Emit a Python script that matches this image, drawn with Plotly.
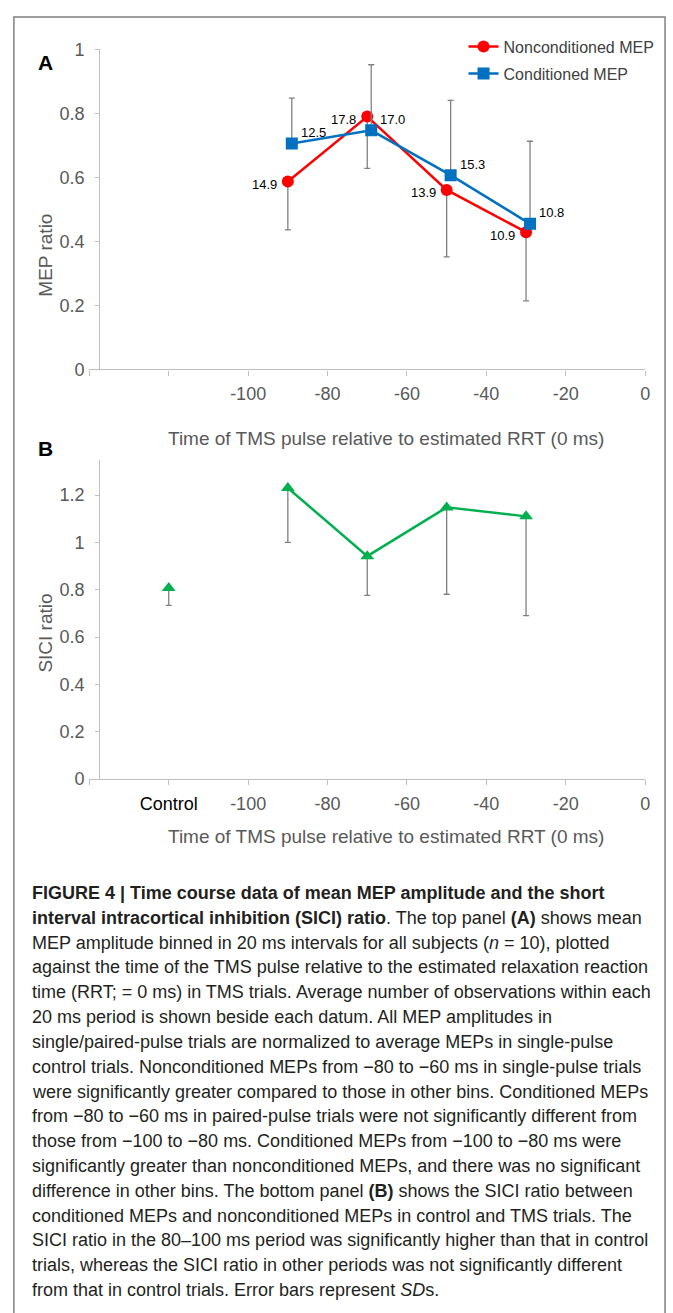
import plotly.graph_objects as go

W, H = 673, 1313

# ---------------- data ----------------
# Panel A
noncond_x = [-90, -70, -50, -30]
noncond_y = [0.587, 0.790, 0.561, 0.429]
noncond_sd = [0.151, 0.162, 0.209, 0.215]          # drawn downward
noncond_n = ["14.9", "17.8", "13.9", "10.9"]

cond_x = [-89, -69, -49, -29]
cond_y = [0.706, 0.747, 0.607, 0.455]
cond_sd = [0.142, 0.205, 0.234, 0.258]              # drawn upward
cond_n = ["12.5", "17.0", "15.3", "10.8"]

# Panel B
control_x = [-120]
control_y = [0.807]
control_sd = [0.073]
sici_x = [-90, -70, -50, -30]
sici_y = [1.230, 0.942, 1.148, 1.110]
sici_sd = [0.230, 0.166, 0.367, 0.419]

x_tickvals = [-140, -120, -100, -80, -60, -40, -20, 0]
xa_ticktext = ["", "", "-100", "-80", "-60", "-40", "-20", "0"]
xb_ticktext = ["", "<span style='color:#000000'>Control</span>", "-100", "-80", "-60", "-40", "-20", "0"]
ya_tickvals = [0, 0.2, 0.4, 0.6, 0.8, 1.0]
ya_ticktext = ["0", "0.2", "0.4", "0.6", "0.8", "1"]
yb_tickvals = [0, 0.2, 0.4, 0.6, 0.8, 1.0, 1.2]
yb_ticktext = ["0", "0.2", "0.4", "0.6", "0.8", "1", "1.2"]

caption_lines = [
    "<b>FIGURE 4 | Time course data of mean MEP amplitude and the short</b>",
    "<b>interval intracortical inhibition (SICI) ratio</b>. The top panel <b>(A)</b> shows mean",
    "MEP amplitude binned in 20 ms intervals for all subjects (<i>n</i> = 10), plotted",
    "against the time of the TMS pulse relative to the estimated relaxation reaction",
    "time (RRT; = 0 ms) in TMS trials. Average number of observations within each",
    "20 ms period is shown beside each datum. All MEP amplitudes in",
    "single/paired-pulse trials are normalized to average MEPs in single-pulse",
    "control trials. Nonconditioned MEPs from \u221280 to \u221260 ms in single-pulse trials",
    "were significantly greater compared to those in other bins. Conditioned MEPs",
    "from \u221280 to \u221260 ms in paired-pulse trials were not significantly different from",
    "those from \u2212100 to \u221280 ms. Conditioned MEPs from \u2212100 to \u221280 ms were",
    "significantly greater than nonconditioned MEPs, and there was no significant",
    "difference in other bins. The bottom panel <b>(B)</b> shows the SICI ratio between",
    "conditioned MEPs and nonconditioned MEPs in control and TMS trials. The",
    "SICI ratio in the 80\u2013100 ms period was significantly higher than that in control",
    "trials, whereas the SICI ratio in other periods was not significantly different",
    "from that in control trials. Error bars represent <i>SD</i>s.",
]

# ---------------- style ----------------
FONT = "Liberation Sans, Arial, sans-serif"
AXIS_GRAY = "#bfbfbf"
TICK_TXT = "#595959"
ERR_GRAY = "#808080"
RED = "#ff0000"
BLUE = "#0070c0"
GREEN = "#00b050"


def px_x(p):
    return p / W


def px_y(p):
    return 1 - p / H


fig = go.Figure()

fig.add_trace(go.Scatter(
    x=noncond_x, y=noncond_y, name="Nonconditioned MEP", mode="lines+markers",
    legendgroup="g1",
    line=dict(color=RED, width=2.5), marker=dict(symbol="circle", size=12, color=RED),
    error_y=dict(type="data", symmetric=False, array=[0] * len(noncond_sd),
                 arrayminus=noncond_sd, color=ERR_GRAY, thickness=1.3, width=3),
    xaxis="x", yaxis="y"))
fig.add_trace(go.Scatter(
    x=cond_x, y=cond_y, name="Conditioned MEP", mode="lines+markers",
    legendgroup="g2",
    line=dict(color=BLUE, width=2.5), marker=dict(symbol="square", size=12, color=BLUE),
    error_y=dict(type="data", symmetric=False, array=cond_sd,
                 arrayminus=[0] * len(cond_sd), color=ERR_GRAY, thickness=1.3, width=3),
    xaxis="x", yaxis="y"))

fig.add_trace(go.Scatter(
    x=control_x, y=control_y, mode="markers", showlegend=False,
    marker=dict(symbol="triangle-up", size=12, color=GREEN),
    error_y=dict(type="data", symmetric=False, array=[0], arrayminus=control_sd,
                 color=ERR_GRAY, thickness=1.3, width=3),
    xaxis="x2", yaxis="y2"))
fig.add_trace(go.Scatter(
    x=sici_x, y=sici_y, mode="lines+markers", showlegend=False,
    line=dict(color=GREEN, width=2.5),
    marker=dict(symbol="triangle-up", size=12, color=GREEN),
    error_y=dict(type="data", symmetric=False, array=[0] * len(sici_sd), arrayminus=sici_sd,
                 color=ERR_GRAY, thickness=1.3, width=3),
    xaxis="x2", yaxis="y2"))

annotations = []
# data labels
for x, y, t in zip(noncond_x, noncond_y, noncond_n):
    annotations.append(dict(x=x, y=y, xref="x", yref="y", text=t, showarrow=False,
                            xanchor="right", yanchor="middle", xshift=-9, yshift=-3,
                            font=dict(family=FONT, size=13, color="#000000")))
for x, y, t in zip(cond_x, cond_y, cond_n):
    annotations.append(dict(x=x, y=y, xref="x", yref="y", text=t, showarrow=False,
                            xanchor="left", yanchor="middle", xshift=7, yshift=11,
                            font=dict(family=FONT, size=13, color="#000000")))

# panel letters
annotations.append(dict(x=px_x(36), y=px_y(40), xref="paper", yref="paper", text="<b>A</b>",
                        showarrow=False, font=dict(family=FONT, size=21, color="#000000")))
annotations.append(dict(x=px_x(36), y=px_y(432), xref="paper", yref="paper", text="<b>B</b>",
                        showarrow=False, font=dict(family=FONT, size=21, color="#000000")))

# axis titles
for yc, t in [(205, "MEP ratio"), (633, "SICI ratio")]:
    annotations.append(dict(x=px_x(33), y=px_y(yc), xref="paper", yref="paper", text=t,
                            textangle=-90, showarrow=False,
                            font=dict(family=FONT, size=19, color=TICK_TXT)))
for yc in [422, 839]:
    annotations.append(dict(x=px_x(389), y=px_y(yc), xref="paper", yref="paper",
                            text="Time of TMS pulse relative to estimated RRT (0 ms)",
                            showarrow=False, font=dict(family=FONT, size=19, color=TICK_TXT)))

# caption
for i, line in enumerate(caption_lines):
    annotations.append(dict(x=px_x(30), y=px_y(896.7 + 25.2 * i), xref="paper", yref="paper",
                            text=line, showarrow=False, xanchor="left", yanchor="middle",
                            font=dict(family=FONT, size=18, color="#231f20")))

axis_common = dict(showgrid=False, zeroline=False, showline=True, linecolor=AXIS_GRAY,
                   linewidth=1.3, ticks="outside", tickcolor=AXIS_GRAY, tickwidth=1.3,
                   tickfont=dict(family=FONT, size=18, color=TICK_TXT))

fig.update_layout(
    width=W, height=H, margin=dict(l=0, r=0, t=0, b=0),
    paper_bgcolor="white", plot_bgcolor="white",
    xaxis=dict(domain=[px_x(90), px_x(650)], range=[-140, 0], anchor="y",
               tickvals=x_tickvals, ticktext=xa_ticktext, ticklen=5, ticklabelstandoff=3,
               **axis_common),
    yaxis=dict(domain=[px_y(365), px_y(40)], range=[0, 1], anchor="free", position=px_x(100),
               tickvals=ya_tickvals, ticktext=ya_ticktext, ticklen=4, ticklabelstandoff=7,
               **axis_common),
    xaxis2=dict(domain=[px_x(90), px_x(650)], range=[-140, 0], anchor="y2",
                tickvals=x_tickvals, ticktext=xb_ticktext, ticklen=5, ticklabelstandoff=3,
                **axis_common),
    yaxis2=dict(domain=[px_y(781), px_y(457)], range=[0, 1.348], anchor="free",
                position=px_x(100), tickvals=yb_tickvals, ticktext=yb_ticktext, ticklen=4,
                ticklabelstandoff=7, **axis_common),
    legend=dict(x=px_x(467), y=px_y(20), xanchor="left", yanchor="top",
                bgcolor="rgba(0,0,0,0)", borderwidth=0, tracegroupgap=3,
                font=dict(family=FONT, size=16, color="#404040")),
    annotations=annotations,
    shapes=[dict(type="rect", xref="paper", yref="paper", x0=px_x(14), x1=px_x(670),
                 y0=-0.02, y1=px_y(7), line=dict(color="#808080", width=1.5),
                 fillcolor="rgba(0,0,0,0)", layer="below")],
)

fig.write_html("out.html")
